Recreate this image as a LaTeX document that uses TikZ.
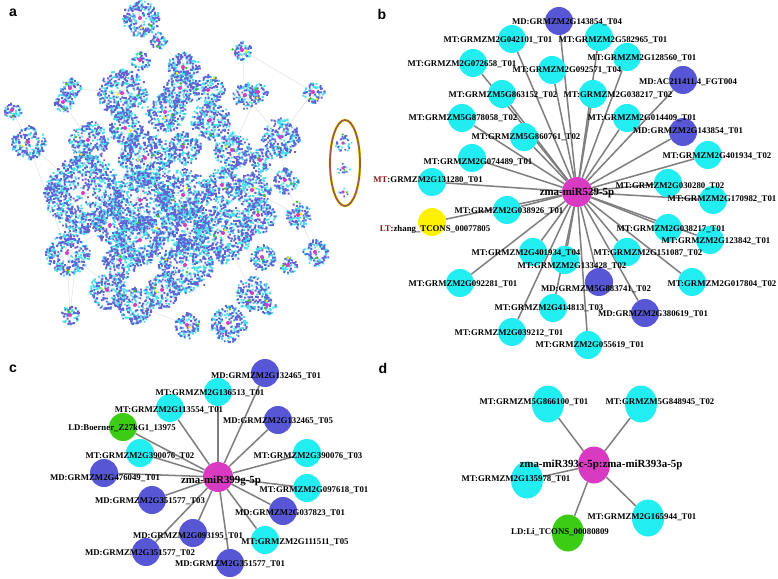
\documentclass[tikz,border=0pt]{standalone}
\usepackage{fontspec}
\setmainfont{Liberation Serif}
\newfontfamily\panelfont{Liberation Sans}
\usetikzlibrary{shapes.geometric}
\pgfdeclarelayer{background}
\pgfdeclarelayer{foreground}
\pgfsetlayers{background,main,foreground}
\definecolor{mtcyan}{HTML}{22EEF2}
\definecolor{mdblue}{HTML}{5757D6}
\definecolor{hubmag}{HTML}{D83BC2}
\definecolor{ldgreen}{HTML}{3CCC14}
\definecolor{ltyellow}{HTML}{FFF200}
\definecolor{linkgray}{HTML}{7F7F7F}
\definecolor{netblue}{HTML}{6262D6}
\definecolor{netcyan}{HTML}{45E0EA}
\definecolor{darkred}{HTML}{8B1A1A}
\definecolor{ringbrown}{HTML}{9A5A50}
\tikzset{
  gene/.style={circle, minimum size=8.4mm, inner sep=0pt},
  hub/.style={circle, fill=hubmag, minimum size=9mm, inner sep=0pt},
  oval/.style={ellipse, minimum width=9.6mm, minimum height=11.1mm, inner sep=0pt},
  lab/.style={font=\fontsize{7.5}{8}\selectfont\bfseries, inner sep=0pt},
  hublab/.style={font=\fontsize{9.3}{10}\selectfont\bfseries, inner sep=0pt},
  link/.style={draw=linkgray, line width=1.3pt},
  panel/.style={font=\panelfont\fontsize{12}{13}\selectfont\bfseries, inner sep=0pt}
}
\begin{document}
\begin{tikzpicture}[x=0.3mm,y=-0.3mm]
\useasboundingbox (0,0) rectangle (778,579);
% panel letters
\node[panel] (pa) at (13,13) {a};
\node[panel] (pb) at (382,14) {b};
\node[panel] (pc) at (13,369) {c};
\node[panel] (pd) at (383,368) {d};

% a: the whole network, drawn as clusters of dots
\pgfmathsetseed{529}
\foreach \cx/\cy/\cr [count=\i] in {140/18/15, 158/40/8, 242/50/9, 140/60/9, 183/67/13,
    70/88/10, 122/93/20, 12/110/8, 313/92/10, 180/88/14, 208/90/13, 245/95/12,
    258/92/9, 63/102/9, 165/112/16, 210/120/16, 28/142/14, 88/140/16, 125/128/14,
    280/137/16, 145/158/22, 183/147/14, 232/150/15, 260/160/11, 83/193/32,
    140/200/24, 183/195/22, 222/185/15, 252/190/15, 285/180/12, 298/215/12,
    258/215/14, 223/233/24, 185/225/20, 140/240/20, 110/225/15, 67/253/18,
    120/260/15, 185/265/22, 262/257/12, 288/265/8, 315/252/12, 107/290/15,
    135/305/15, 162/290/14, 252/293/14, 267/305/8, 70/315/9, 187/325/12, 228/323/15}{
  \coordinate (a\i) at (\cx,\cy);
  \pgfmathsetmacro\rr{\cr*(\cr>12 ? 1.25 : 1.1)}
  \pgfmathtruncatemacro\nd{\rr*\rr/3.3}
  \draw[gray!30, line width=0.2pt] \foreach \k in {1,...,10}{(\cx,\cy) -- ++({360*rnd}:{\rr*rnd})};
  \fill[netcyan] \foreach \k in {1,...,\nd}{(\cx,\cy) ++({360*rnd}:{\rr*sqrt(rnd)}) rectangle ++(1.9,1.9)};
  \fill[netblue] \foreach \k in {1,...,\nd}{(\cx,\cy) ++({360*rnd}:{\rr*sqrt(rnd)}) rectangle ++(1.9,1.9)};
  \fill[ldgreen] (\cx,\cy) ++({360*rnd}:{\rr*rnd}) circle (1.4);
  \ifodd\i \fill[ltyellow] (\cx,\cy) ++({360*rnd}:{\rr*rnd}) circle (1.4); \fi
  \fill[hubmag] (\cx,\cy) circle (2);
}
\begin{pgfonlayer}{background}
  \foreach \p/\q in {1/2, 2/4, 2/5, 4/7, 5/10, 3/12, 3/9, 6/7, 8/17, 14/18, 7/19,
      10/15, 11/16, 12/20, 9/20, 13/23, 17/25, 18/25, 19/21, 21/26, 15/22, 22/27,
      16/23, 23/28, 24/30, 20/30, 25/26, 26/27, 27/28, 28/29, 29/31, 30/31, 29/32,
      32/33, 27/34, 33/34, 26/35, 25/36, 36/37, 35/38, 34/39, 33/40, 40/41, 31/42,
      38/43, 39/44, 39/45, 40/46, 46/47, 37/48, 44/49, 49/50, 46/50, 25/48, 21/33,
      15/26, 7/21, 11/28, 5/16, 37/44, 33/46, 17/37}
    \draw[gray!25, line width=0.4pt] (a\p) -- (a\q);
\end{pgfonlayer}
% the three small parts apart from the rest
\foreach \cx/\cy/\cr/\nn in {343/143/9/14, 343/168/7/6, 343/192/5/3}{
  \fill[netcyan] \foreach \k in {1,...,\nn}{(\cx,\cy) ++({360*rnd}:{\cr*sqrt(rnd)}) rectangle ++(1.8,1.8)};
  \fill[netblue] \foreach \k in {1,...,\nn}{(\cx,\cy) ++({360*rnd}:{\cr*sqrt(rnd)}) rectangle ++(1.8,1.8)};
  \fill[ldgreen] (\cx,\cy) ++({360*rnd}:{\cr*rnd}) circle (1.2);
  \fill[hubmag] (\cx,\cy) circle (1.8);
}
\draw[ltyellow, line width=2.2pt] (345,163) ellipse (15 and 43);
\draw[ringbrown, line width=1.5pt] (345,163) ellipse (15 and 43);

% b: zma-miR529-5p
\node[hub] (bhub) at (577,192) {};
\begin{pgfonlayer}{foreground}
  \node[hublab] (bhub-l) at (577,193) {zma-miR529-5p};
\end{pgfonlayer}
\foreach \n/\x/\y/\c/\lx/\ly/\t in {
    b1/559/21/mdblue/567/22/{MD:GRMZM2G143854\_T04},
    b2/512/39/mtcyan/498/40/{MT:GRMZM2G042101\_T01},
    b3/599/37/mtcyan/613/40/{MT:GRMZM2G582965\_T01},
    b4/627/57/mtcyan/642/58/{MT:GRMZM2G128560\_T01},
    b5/473/63/mtcyan/462/64/{MT:GRMZM2G072658\_T01},
    b6/552/70/mtcyan/567/70/{MT:GRMZM2G092571\_T04},
    b7/683/80/mdblue/688/82/{MD:AC211411.4\_FGT004},
    b8/502/94/mtcyan/503/95/{MT:GRMZM5G863152\_T02},
    b9/593/94/mtcyan/618/95/{MT:GRMZM2G038217\_T02},
    b10/462/118/mtcyan/463/118/{MT:GRMZM5G878058\_T02},
    b11/627/118/mtcyan/642/118/{MT:GRMZM2G014409\_T01},
    b12/683/132/mdblue/688/131/{MD:GRMZM2G143854\_T01},
    b13/524/137/mtcyan/526/137/{MT:GRMZM5G860761\_T02},
    b14/708/155/mtcyan/717/156/{MT:GRMZM2G401934\_T02},
    b15/472/158/mtcyan/478/162/{MT:GRMZM2G074489\_T01},
    b16/432/182/mtcyan/428/180/{\textcolor{darkred}{MT}:GRMZM2G131280\_T01},
    b17/668/183/mtcyan/670/186/{MT:GRMZM2G030280\_T02},
    b18/713/200/mtcyan/722/199/{MT:GRMZM2G170982\_T01},
    b19/507/210/mtcyan/509/211/{MT:GRMZM2G038926\_T01},
    b20/432/222/ltyellow/435/229/{\textcolor{darkred}{LT}:zhang\_TCONS\_00077805},
    b21/668/228/mtcyan/671/229/{MT:GRMZM2G038217\_T01},
    b22/710/240/mtcyan/716/241/{MT:GRMZM2G123842\_T01},
    b23/533/252/mtcyan/526/253/{MT:GRMZM2G401934\_T04},
    b24/627/252/mtcyan/648/253/{MT:GRMZM2G151087\_T02},
    b25/565/260/mtcyan/572/266/{MT:GRMZM2G133428\_T02},
    b26/460/283/mtcyan/463/284/{MT:GRMZM2G092281\_T01},
    b27/599/282/mdblue/596/289/{MD:GRMZM5G883741\_T02},
    b28/692/282/mtcyan/722/284/{MT:GRMZM2G017804\_T02},
    b29/553/308/mtcyan/549/308/{MT:GRMZM2G414813\_T03},
    b30/645/313/mdblue/653/314/{MD:GRMZM2G380619\_T01},
    b31/512/332/mtcyan/509/333/{MT:GRMZM2G039212\_T01},
    b32/588/345/mtcyan/590/345/{MT:GRMZM2G055619\_T01}}{
  \node[gene, fill=\c] (\n) at (\x,\y) {};
  \begin{pgfonlayer}{foreground}
    \node[lab] (\n-l) at (\lx,\ly) {\t};
  \end{pgfonlayer}
  \begin{pgfonlayer}{background}
    \draw[link] (bhub) -- (\n);
  \end{pgfonlayer}
}

% c: zma-miR399g-5p
\node[hub] (chub) at (218,477) {};
\begin{pgfonlayer}{foreground}
  \node[hublab] (chub-l) at (221,481) {zma-miR399g-5p};
\end{pgfonlayer}
\foreach \n/\x/\y/\c/\lx/\ly/\t in {
    c1/265/373/mdblue/266/376/{MD:GRMZM2G132465\_T01},
    c2/218/392/mtcyan/210/393/{MT:GRMZM2G136513\_T01},
    c3/170/408/mtcyan/169/410/{MT:GRMZM2G113554\_T01},
    c4/278/420/mdblue/278/421/{MD:GRMZM2G132465\_T05},
    c5/123/427/ldgreen/122/428/{LD:Boerner\_Z27kG1\_13975},
    c6/140/453/mtcyan/140/456/{MT:GRMZM2G390076\_T02},
    c7/307/453/mtcyan/308/456/{MT:GRMZM2G390076\_T03},
    c8/104/473/mdblue/105/478/{MD:GRMZM2G476049\_T01},
    c9/307/488/mtcyan/314/490/{MT:GRMZM2G097618\_T01},
    c10/152/500/mdblue/150/501/{MD:GRMZM2G351577\_T03},
    c11/283/511/mdblue/290/513/{MD:GRMZM2G037823\_T01},
    c12/193/533/mdblue/188/536/{MD:GRMZM2G093195\_T01},
    c13/265/540/mtcyan/295/542/{MT:GRMZM2G111511\_T05},
    c14/146/552/mdblue/140/553/{MD:GRMZM2G351577\_T02},
    c15/230/563/mdblue/230/564/{MD:GRMZM2G351577\_T01}}{
  \node[gene, fill=\c] (\n) at (\x,\y) {};
  \begin{pgfonlayer}{foreground}
    \node[lab] (\n-l) at (\lx,\ly) {\t};
  \end{pgfonlayer}
  \begin{pgfonlayer}{background}
    \draw[link] (chub) -- (\n);
  \end{pgfonlayer}
}

% d: zma-miR393c-5p:zma-miR393a-5p
\node[oval, fill=hubmag] (dhub) at (594,465) {};
\begin{pgfonlayer}{foreground}
  \node[hublab] (dhub-l) at (601,465) {zma-miR393c-5p:zma-miR393a-5p};
\end{pgfonlayer}
\foreach \n/\x/\y/\c/\lx/\ly/\t in {
    d1/548/404/mtcyan/534/402/{MT:GRMZM5G866100\_T01},
    d2/641/404/mtcyan/660/402/{MT:GRMZM5G848945\_T02},
    d3/527/480/mtcyan/516/479/{MT:GRMZM2G135978\_T01},
    d4/648/518/mtcyan/642/517/{MT:GRMZM2G165944\_T01},
    d5/568/533/ldgreen/560/532/{LD:Li\_TCONS\_00080809}}{
  \node[oval, fill=\c] (\n) at (\x,\y) {};
  \begin{pgfonlayer}{foreground}
    \node[lab] (\n-l) at (\lx,\ly) {\t};
  \end{pgfonlayer}
  \begin{pgfonlayer}{background}
    \draw[link] (dhub) -- (\n);
  \end{pgfonlayer}
}
\end{tikzpicture}
\end{document}
